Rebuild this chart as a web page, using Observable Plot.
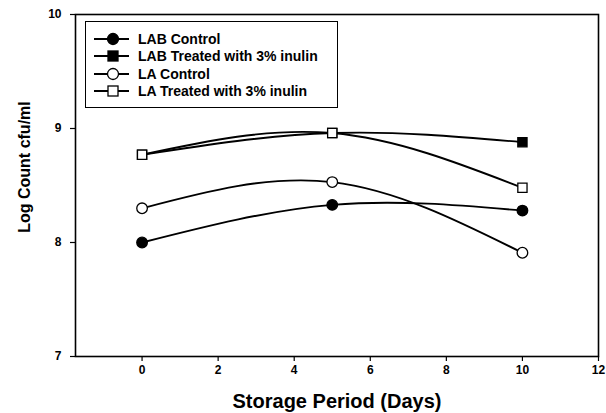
<!DOCTYPE html>
<html>
<head>
<meta charset="utf-8">
<script src="https://cdn.jsdelivr.net/npm/d3@7"></script>
<script src="https://cdn.jsdelivr.net/npm/@observablehq/plot@0.6"></script>
<style>
  html, body { margin: 0; padding: 0; background: #fff; }
  #wrap { position: relative; width: 606px; height: 413px; font-family: "Liberation Sans", Arial, sans-serif; font-weight: bold; color: #000; }
  .ylab { position: absolute; left: 25px; top: 167px; transform: translate(-50%, -50%) rotate(-90deg); font-size: 16px; white-space: nowrap; }
  .xlab { position: absolute; left: 337px; top: 401px; transform: translate(-50%, -50%); font-size: 20px; white-space: nowrap; }
  .legend { position: absolute; left: 85px; top: 21px; width: 253px; height: 87px; border: 1px solid #000; box-sizing: border-box; background: #fff; }
  .legend .row { position: absolute; left: 7px; height: 17px; display: flex; align-items: center; font-size: 14px; white-space: nowrap; }
  .legend svg { margin-right: 8px; }
</style>
</head>
<body>
<div id="wrap"></div>
<script>
const days = [0, 5, 10];
const seriesNames = ["LAB Control", "LAB Treated with 3% inulin", "LA Control", "LA Treated with 3% inulin"];
const labControl = [8.00, 8.33, 8.28];
const labTreated = [8.77, 8.96, 8.88];
const laControl  = [8.30, 8.53, 7.91];
const laTreated  = [8.77, 8.96, 8.48];
const seriesValues = [labControl, labTreated, laControl, laTreated];
const symbols = ["circle", "square", "circle", "square"];
const fills = ["black", "black", "white", "white"];
const xTicks = [0, 2, 4, 6, 8, 10, 12];
const yTicks = [7, 8, 9, 10];
const xLabel = "Storage Period (Days)";
const yLabel = "Log Count cfu/ml";

const data = [];
seriesNames.forEach((s, i) => days.forEach((d, j) => data.push({series: s, day: d, value: seriesValues[i][j]})));

const dotMarks = seriesNames.map((s, i) => Plot.dot(data.filter(d => d.series === s), {
  x: "day", y: "value", symbol: symbols[i], fill: fills[i], stroke: "black", strokeWidth: 1.3,
  r: symbols[i] === "square" ? 5.2 : 5.3
}));

const chart = Plot.plot({
  width: 606, height: 413,
  marginLeft: 75, marginRight: 8, marginTop: 14, marginBottom: 57,
  style: {fontFamily: "'Liberation Sans', Arial, sans-serif", fontWeight: "bold", background: "white", color: "black"},
  x: {domain: [-1.75, 12]},
  y: {domain: [7, 10]},
  marks: [
    Plot.axisX({ticks: xTicks, tickFormat: "d", tickSize: 5, tickPadding: 4, label: null, fontSize: 12, fontWeight: "bold", strokeWidth: 1.2}),
    Plot.axisY({ticks: yTicks, tickFormat: "d", tickSize: 5, tickPadding: 9, label: null, fontSize: 12, fontWeight: "bold", strokeWidth: 1.2}),
    Plot.frame({stroke: "black", strokeWidth: 1.6}),
    Plot.line(data, {x: "day", y: "value", z: "series", curve: "natural", stroke: "black", strokeWidth: 1.9}),
    ...dotMarks
  ]
});

const wrap = document.getElementById("wrap");
wrap.appendChild(chart);

const yl = document.createElement("div"); yl.className = "ylab"; yl.textContent = yLabel; wrap.appendChild(yl);
const xl = document.createElement("div"); xl.className = "xlab"; xl.textContent = xLabel; wrap.appendChild(xl);

const legend = document.createElement("div"); legend.className = "legend";
seriesNames.forEach((s, i) => {
  const row = document.createElement("div"); row.className = "row";
  row.style.top = (8 + i * 17.5) + "px";
  const sym = symbols[i] === "circle"
    ? `<circle cx="20" cy="8" r="5.5" fill="${fills[i]}" stroke="black" stroke-width="1.3"/>`
    : `<rect x="15" y="3" width="10" height="10" fill="${fills[i]}" stroke="black" stroke-width="1.3"/>`;
  row.innerHTML = `<svg width="37" height="16"><line x1="1" y1="8" x2="36" y2="8" stroke="black" stroke-width="1.9"/>${sym}</svg><span>${s}</span>`;
  legend.appendChild(row);
});
wrap.appendChild(legend);
</script>
</body>
</html>
